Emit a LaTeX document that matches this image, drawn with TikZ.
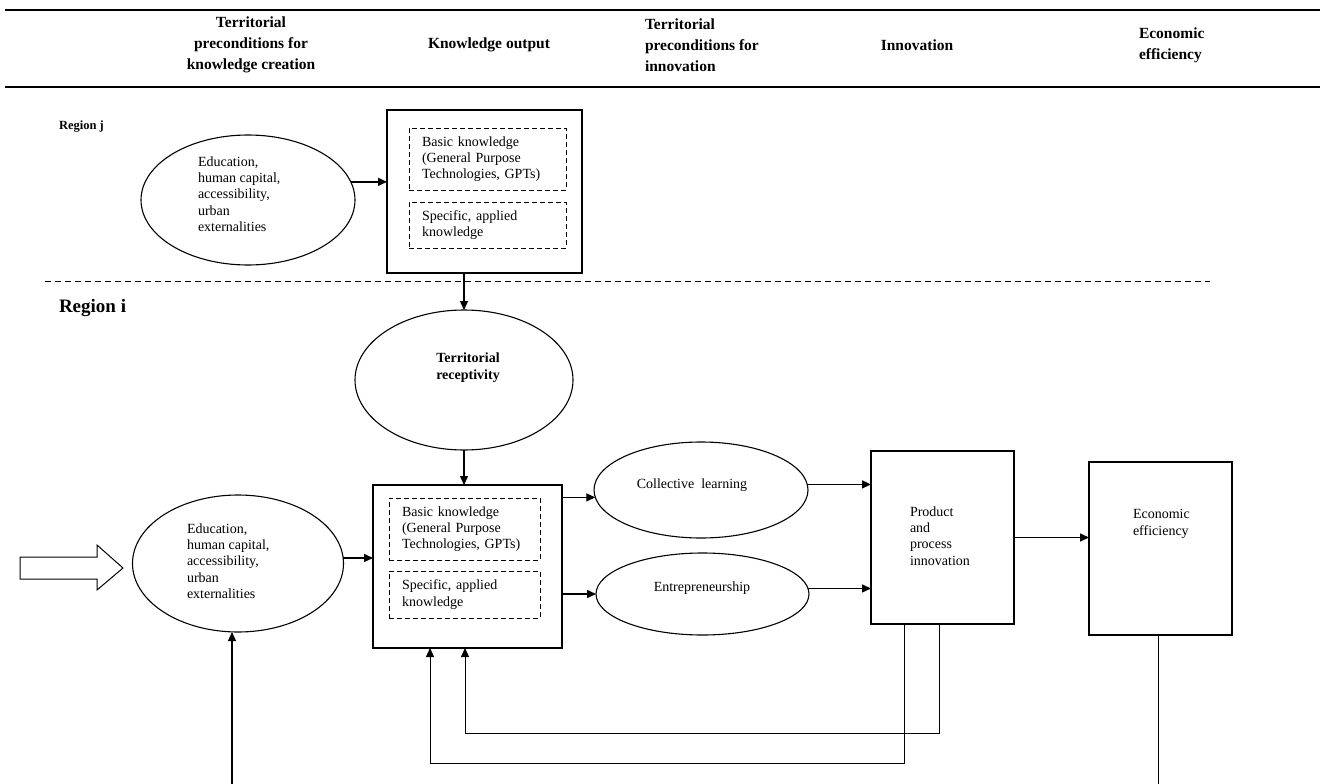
\documentclass[tikz,border=0pt]{standalone}
\usepackage{fontspec}
\setmainfont{Liberation Serif}
\usetikzlibrary{shapes.geometric,arrows.meta}
\begin{document}
\begin{tikzpicture}[x=1pt,y=-1pt,
 every node/.style={inner sep=0pt, outer sep=0pt},
 hdr/.style={font=\fontsize{15.5}{21}\selectfont\bfseries},
 body/.style={font=\fontsize{14}{16.3}\selectfont, align=left},
 box/.style={draw, line width=1.3pt, rectangle},
 ell/.style={draw, ellipse, line width=1.1pt},
 dbox/.style={draw, line width=1pt, dash pattern=on 5pt off 3pt, rectangle, inner xsep=13pt, align=left, font=\fontsize{14}{16.3}\selectfont},
 arr/.style={line width=1.4pt, -{Triangle[length=9pt,width=8pt]}},
 fb/.style={line width=1pt, -{Triangle[length=9pt,width=8pt]}},
]
\useasboundingbox (0,0) rectangle (1320,784);

% header rules
\coordinate (r1a) at (5,10); \coordinate (r1b) at (1320,10);
\coordinate (r2a) at (5,87); \coordinate (r2b) at (1320,87);
\draw[line width=2pt] (r1a) -- (r1b);
\draw[line width=2pt] (r2a) -- (r2b);

% headers
\node[hdr, align=center] (h1) at (251,45) {Territorial\\preconditions for\\knowledge creation};
\node[hdr] (h2) at (489,45) {Knowledge output};
\node[hdr, align=left, anchor=west] (h3) at (645,45) {Territorial\\preconditions for\\innovation};
\node[hdr] (h4) at (917,45) {Innovation};
\node[hdr, align=left, anchor=west] (h5) at (1139,45) {Economic\\efficiency};

% region j
\node[font=\fontsize{12.5}{14}\selectfont\bfseries, anchor=west] (rj) at (59,127) {Region j};
\node[ell, minimum width=214pt, minimum height=130pt] (upEll) at (248,200) {};
\node[body, anchor=west] (upEllT) at (198,194) {Education,\\human capital,\\accessibility,\\urban\\externalities};
\node[box, minimum width=195pt, minimum height=163pt] (upBox) at (484.5,191.5) {};
\node[dbox, minimum width=157pt, text width=131pt, minimum height=62pt] (upB1) at (487.5,159) {Basic knowledge\\(General Purpose\\Technologies, GPTs)};
\node[dbox, minimum width=157pt, text width=131pt, minimum height=46pt] (upB2) at (487.5,225) {Specific, applied\\knowledge};
\draw[arr] (upEll.10) -- (upEll.10 -| upBox.west);

% separator
\coordinate (dl1) at (45,281); \coordinate (dl2) at (1210,281);
\draw[line width=0.8pt, dash pattern=on 6pt off 4pt] (dl1) -- (dl2);

% region i
\node[font=\fontsize{19}{22}\selectfont\bfseries, anchor=west] (ri) at (59,308) {Region i};
\node[ell, minimum width=218pt, minimum height=140pt] (rec) at (464,380) {};
\node[font=\fontsize{14}{17}\selectfont\bfseries, align=center] (recT) at (468,368) {Territorial\\receptivity};
\draw[arr] (upBox.south -| rec.north) -- (rec.north);

\node[box, minimum width=189pt, minimum height=163pt] (lowBox) at (467.5,566.5) {};
\node[dbox, minimum width=151pt, text width=125pt, minimum height=62pt] (lowB1) at (464.5,529) {Basic knowledge\\(General Purpose\\Technologies, GPTs)};
\node[dbox, minimum width=151pt, text width=125pt, minimum height=47pt] (lowB2) at (464.5,594.5) {Specific, applied\\knowledge};
\draw[arr] (rec.south) -- (rec.south |- lowBox.north);

\node[ell, minimum width=211pt, minimum height=137pt] (lowEll) at (238,563.5) {};
\node[body, anchor=west] (lowEllT) at (187,561) {Education,\\human capital,\\accessibility,\\urban\\externalities};
\draw[arr] (lowEll.3) -- (lowEll.3 -| lowBox.west);

% hollow input arrow
\draw[line width=1pt] (20,557) -- (97,557) -- (97,545) -- (123,568) -- (97,590) -- (97,579) -- (20,579) -- cycle;

\node[ell, minimum width=214pt, minimum height=96pt] (colEll) at (701,490) {};
\node[font=\fontsize{14}{16.3}\selectfont] (colT) at (692,485) {Collective\ \ learning};
\node[ell, minimum width=213pt, minimum height=82pt] (entEll) at (702.5,594) {};
\node[font=\fontsize{14}{16.3}\selectfont] (entT) at (702,588) {Entrepreneurship};

\draw[arr] (lowBox.east |- colEll.184) -- (colEll.184);
\draw[arr] (lowBox.east |- entEll.west) -- (entEll.west);

\node[box, minimum width=143pt, minimum height=173pt] (prodBox) at (942.5,537.5) {};
\node[body, anchor=west] (prodT) at (910,536) {Product\\and\\process\\innovation};
\node[box, minimum width=143pt, minimum height=173pt] (econBox) at (1160.5,548.5) {};
\node[body, anchor=west] (econT) at (1133,524) {Economic\\efficiency};

\draw[arr] (colEll.3) -- (colEll.3 -| prodBox.west);
\draw[arr] (entEll.3) -- (entEll.3 -| prodBox.west);
\draw[arr] (prodBox.east) -- (prodBox.east -| econBox.west);

% outgoing / incoming lines at bottom
\coordinate (econEnd) at (1158,784);
\draw[line width=1pt] (econBox.south -| econEnd) -- (econEnd);
\coordinate (botL) at (232,784);
\draw[fb, line width=1.2pt] (botL) -- (botL |- lowEll.south);

% feedback loops
\coordinate (fbA) at (939,733); \coordinate (fbB) at (465,733);
\coordinate (fbC) at (904,763); \coordinate (fbD) at (430,763);
\draw[fb] (prodBox.south -| fbA) -- (fbA) -- (fbB) -- (lowBox.south -| fbB);
\draw[fb] (prodBox.south -| fbC) -- (fbC) -- (fbD) -- (lowBox.south -| fbD);
\end{tikzpicture}
\end{document}
